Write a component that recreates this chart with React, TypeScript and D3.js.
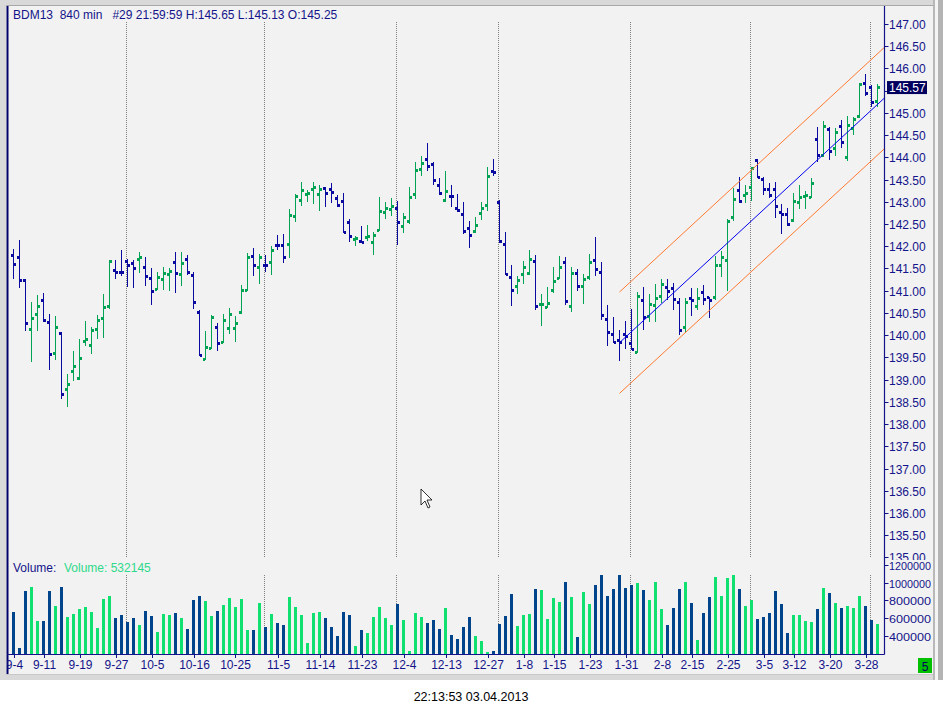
import { useRef, useEffect } from "react";
import * as d3 from "d3";

const width = 943;
const height = 715;

// OHLC bars, one per session, Sep 4 2012 .. Apr 2 2013
const opens = [
  141.80, 141.75, 141.24, 140.13, 140.47, 140.77, 140.29, 139.59, 140.04, 138.78,
  139.19, 139.03, 139.86, 139.77, 140.13, 140.38, 140.65, 141.46, 141.41, 141.66,
  141.62, 141.71, 141.53, 141.28, 141.03, 141.26, 141.37, 141.64, 141.37, 141.71,
  141.35, 140.51, 139.46, 139.70, 140.18, 139.84, 140.15, 140.15, 140.51, 141.01,
  141.77, 141.53, 141.57, 141.64, 142.02, 142.02, 142.04, 142.67, 143.02, 143.17,
  143.28, 143.17, 143.30, 143.28, 143.08, 143.01, 142.54, 142.16, 142.11, 142.20,
  142.09, 142.36, 142.76, 142.83, 142.85, 142.45, 142.56, 143.17, 143.73, 143.96,
  143.84, 143.37, 143.03, 143.13, 142.85, 142.72, 142.40, 142.34, 142.74, 142.92,
  143.69, 142.99, 142.04, 141.30, 141.10, 141.37, 141.39, 141.66, 140.69, 140.63,
  141.01, 141.28, 141.64, 140.65, 141.39, 141.10, 141.30, 141.68, 141.41, 140.36,
  140.02, 139.88, 140.02, 139.82, 139.61, 140.78, 140.42, 140.67, 140.87, 141.08,
  141.05, 140.74, 140.18, 140.83, 140.65, 140.96, 140.85, 140.85, 141.56, 141.67,
  142.65, 143.26, 143.15, 143.33, 143.92, 143.51, 143.28, 143.28, 142.76, 142.72,
  142.58, 142.99, 143.12, 143.10, 144.41, 144.05, 144.63, 144.20, 144.70, 144.00,
  144.65, 144.92, 145.67, 145.58, 145.25,
];
const highs = [
  141.94, 142.14, 141.26, 140.75, 140.90, 140.95, 140.48, 140.43, 140.07, 139.13,
  139.64, 139.91, 140.32, 140.18, 140.45, 140.93, 141.69, 141.69, 141.92, 141.71,
  141.69, 141.87, 141.76, 141.50, 141.42, 141.53, 141.51, 141.87, 141.87, 141.80,
  141.42, 140.57, 140.09, 140.45, 140.27, 140.48, 140.61, 140.43, 141.13, 141.85,
  141.96, 141.82, 141.80, 142.01, 142.25, 142.28, 142.84, 143.18, 143.45, 143.27,
  143.45, 143.38, 143.34, 143.43, 143.15, 143.20, 142.61, 142.23, 142.45, 142.48,
  142.33, 143.11, 142.99, 143.08, 143.02, 142.74, 143.33, 143.90, 144.03, 144.32,
  143.90, 143.53, 143.69, 143.38, 143.18, 142.99, 142.57, 142.65, 142.99, 143.78,
  143.96, 143.03, 142.32, 141.57, 141.33, 141.66, 141.92, 141.80, 140.93, 141.09,
  141.54, 141.78, 141.76, 141.54, 141.48, 141.38, 141.82, 142.21, 141.65, 140.68,
  140.41, 140.12, 140.32, 140.59, 140.97, 141.09, 140.93, 141.15, 141.26, 141.26,
  141.17, 140.83, 140.83, 141.06, 141.06, 141.13, 140.86, 141.78, 141.89, 142.61,
  143.30, 143.56, 143.38, 143.78, 143.96, 143.56, 143.42, 143.44, 142.94, 142.85,
  143.19, 143.38, 143.24, 143.54, 144.68, 144.82, 144.69, 144.65, 144.84, 144.93,
  144.90, 145.67, 145.87, 145.63, 145.65,
];
const lows = [
  141.26, 141.07, 140.10, 139.40, 140.10, 140.30, 139.22, 139.44, 138.56, 138.39,
  138.97, 138.99, 139.76, 139.58, 139.91, 139.94, 140.59, 141.26, 141.33, 141.08,
  141.06, 141.40, 141.11, 140.68, 141.02, 141.02, 140.99, 140.95, 141.11, 141.35,
  140.59, 139.53, 139.44, 139.69, 139.64, 139.82, 140.03, 139.85, 140.48, 140.99,
  141.33, 141.15, 141.42, 141.35, 141.92, 141.63, 141.74, 142.55, 142.91, 143.00,
  142.95, 142.80, 142.89, 142.98, 142.88, 142.29, 142.10, 142.01, 142.07, 142.12,
  141.81, 142.35, 142.61, 142.68, 142.03, 142.30, 142.51, 143.06, 143.59, 143.70,
  143.38, 143.16, 142.99, 142.89, 142.77, 142.27, 141.95, 142.29, 142.59, 142.79,
  143.59, 142.07, 141.35, 140.66, 140.93, 141.16, 141.35, 140.57, 140.21, 140.60,
  140.94, 141.27, 140.67, 140.53, 140.99, 140.69, 141.23, 141.34, 140.34, 139.76,
  139.82, 139.42, 139.69, 139.67, 139.59, 140.12, 140.30, 140.30, 140.72, 140.79,
  140.57, 140.00, 140.04, 140.43, 140.57, 140.68, 140.39, 140.80, 141.31, 141.00,
  142.57, 142.97, 142.97, 143.02, 143.53, 143.15, 143.08, 142.64, 142.28, 142.46,
  142.54, 142.83, 142.83, 143.09, 143.90, 144.01, 143.95, 144.04, 144.22, 143.92,
  144.50, 144.88, 145.38, 145.13, 145.13,
];
const closes = [
  141.59, 141.22, 140.27, 140.38, 140.64, 140.33, 139.57, 140.18, 138.67, 138.89,
  139.30, 139.48, 139.91, 140.11, 140.33, 140.63, 141.66, 141.41, 141.40, 141.57,
  141.50, 141.75, 141.32, 140.99, 141.30, 141.39, 141.44, 141.39, 141.62, 141.41,
  140.74, 139.55, 139.73, 140.40, 139.82, 140.33, 140.47, 140.27, 141.01, 141.75,
  141.57, 141.75, 141.56, 141.91, 142.01, 141.75, 142.70, 143.11, 143.26, 143.18,
  143.33, 143.28, 143.19, 143.21, 142.92, 142.31, 142.22, 142.18, 142.09, 142.22,
  142.25, 142.79, 142.85, 142.90, 142.54, 142.65, 143.10, 143.71, 143.87, 143.80,
  143.48, 143.19, 143.24, 143.12, 142.81, 142.34, 142.25, 142.47, 142.85, 143.57,
  143.66, 142.11, 141.37, 141.01, 141.23, 141.53, 141.71, 140.65, 140.70, 140.72,
  141.21, 141.53, 140.76, 141.39, 141.10, 141.26, 141.64, 141.48, 140.45, 140.06,
  139.84, 139.84, 139.97, 139.68, 140.87, 140.40, 140.70, 140.83, 141.14, 140.99,
  140.81, 140.11, 140.74, 140.78, 140.83, 140.81, 140.78, 141.56, 141.74, 142.56,
  143.06, 143.01, 143.19, 143.75, 143.55, 143.28, 143.15, 142.90, 142.72, 142.49,
  143.01, 143.10, 143.15, 143.42, 144.05, 144.70, 144.14, 144.56, 144.34, 144.72,
  144.86, 145.64, 145.43, 145.24, 145.57,
];
const volumes = [
  672000, 264000, 909000, 954000, 570000, 570000, 909000, 739000, 954000, 615000,
  649000, 706000, 728000, 672000, 491000, 819000, 853000, 604000, 638000, 558000,
  604000, 524000, 683000, 626000, 445000, 649000, 638000, 660000, 604000, 479000,
  807000, 853000, 796000, 626000, 683000, 751000, 830000, 728000, 819000, 468000,
  468000, 773000, 502000, 649000, 547000, 524000, 841000, 728000, 638000, 321000,
  660000, 672000, 604000, 502000, 400000, 672000, 638000, 287000, 468000, 434000,
  615000, 728000, 604000, 524000, 762000, 581000, 230000, 660000, 615000, 547000,
  581000, 479000, 717000, 411000, 366000, 502000, 615000, 400000, 343000, 219000,
  230000, 536000, 626000, 875000, 513000, 638000, 649000, 932000, 920000, 592000,
  830000, 785000, 1011000, 841000, 389000, 898000, 762000, 977000, 1090000, 853000,
  932000, 1090000, 943000, 977000, 1000000, 920000, 807000, 1011000, 706000, 524000,
  717000, 932000, 1011000, 773000, 355000, 660000, 841000, 1068000, 853000, 1056000,
  1090000, 932000, 739000, 807000, 592000, 615000, 660000, 909000, 762000, 434000,
  638000, 638000, 570000, 558000, 706000, 943000, 886000, 773000, 717000, 739000,
  717000, 853000, 739000, 581000, 532145,
];

// x-axis date labels and the bar they sit under
const dateLabels = [
  "9-4", "9-11", "9-19", "9-27", "10-5", "10-16", "10-25", "11-5", "11-14", "11-23",
  "12-4", "12-13", "12-27", "1-8", "1-15", "1-23", "1-31", "2-8", "2-15", "2-25",
  "3-5", "3-12", "3-20", "3-28",
];
const dateIdx = [0, 5, 11, 17, 23, 30, 37, 44, 51, 58, 65, 72, 79, 85, 90, 96, 102, 108, 113, 119, 125, 130, 136, 142];
// first bar of each month (dotted separators)
const monthStartIdx = [19, 42, 64, 81, 103, 123, 143];

const priceTicks = d3.range(135, 147.001, 0.5);
const volumeTicks = [1200000, 1000000, 800000, 600000, 400000];

// regression channel
const channelIdx = [101, 145.2];
const channelMid = [139.83, 145.34];
const channelHalf = 1.14;

const lastPrice = 145.57;

const NAVY = "#14148a";
const UP = "#00a254";
const DOWN = "#0a0aa0";
const VOL_UP = "#10e070";
const VOL_DOWN = "#00448c";
const FONT = "'Liberation Sans', Arial, sans-serif";

export default function App() {
  const ref = useRef<SVGSVGElement | null>(null);

  useEffect(() => {
    const svg = d3
      .select(ref.current)
      .attr("width", width)
      .attr("height", height)
      .attr("viewBox", `0 0 ${width} ${height}`)
      .style("font-family", FONT);

    svg.selectAll("*").remove();

    const x = d3.scaleLinear().domain([0, 144]).range([13.5, 877.5]);
    const y = d3.scaleLinear().domain([135, 147]).range([557.4, 24]);
    const yv = d3.scaleLinear().domain([400000, 1200000]).range([635.7, 565]);
    const base = 654;
    const axisX = 884.5;

    const defs = svg.append("defs");
    defs.append("clipPath").attr("id", "plot").append("rect").attr("x", 7).attr("y", 6).attr("width", axisX - 7).attr("height", 648);
    defs.append("clipPath").attr("id", "paxis").append("rect").attr("x", axisX).attr("y", 6).attr("width", 933 - axisX).attr("height", 554);
    defs.append("clipPath").attr("id", "vaxis").append("rect").attr("x", axisX).attr("y", 560).attr("width", 931 - axisX).attr("height", 100);
    defs.append("clipPath").attr("id", "xaxis").append("rect").attr("x", 7).attr("y", 654).attr("width", axisX - 7).attr("height", 22);

    // window frame
    svg.append("rect").attr("width", width).attr("height", 680).attr("fill", "#d9d9d9");
    svg.append("rect").attr("x", 6).attr("y", 6).attr("width", 927).attr("height", 668).attr("fill", "#f2f2f2");
    svg.append("line").attr("x1", 7.5).attr("x2", 7.5).attr("y1", 6).attr("y2", 674).attr("stroke", "#00006a").attr("stroke-width", 2);
    svg.append("line").attr("x1", 6).attr("x2", 933).attr("y1", 5.5).attr("y2", 5.5).attr("stroke", "#a8a8a8");
    svg.append("line").attr("x1", 6).attr("x2", 933).attr("y1", 674.5).attr("y2", 674.5).attr("stroke", "#c8c8c8");
    svg.append("rect").attr("x", 933).attr("y", 0).attr("width", 2).attr("height", 680).attr("fill", "#b8b8b8");
    svg.append("rect").attr("x", 935).attr("y", 0).attr("width", 3).attr("height", 680).attr("fill", "#f4f4f4");
    svg.append("rect").attr("x", 938).attr("y", 0).attr("width", 5).attr("height", 680).attr("fill", "#b4b4b4");

    const plot = svg.append("g").attr("clip-path", "url(#plot)").attr("shape-rendering", "crispEdges");

    // month separators
    monthStartIdx.forEach((i) => {
      const gx = Math.round(x(i) - 2) + 0.5;
      [[22, 558], [575, base]].forEach(([a, b]) => {
        plot.append("line").attr("x1", gx).attr("x2", gx).attr("y1", a).attr("y2", b)
          .attr("stroke", "#808080").attr("stroke-dasharray", "1,1");
      });
    });

    // channel
    const ch = d3.line<number>().x((d) => x(d)).y((d, k) => y(channelMid[k]));
    const chOff = (off: number) =>
      d3.line<number>().x((d) => x(d)).y((d, k) => y(channelMid[k] + off))(channelIdx);
    const chg = svg.append("g").attr("clip-path", "url(#plot)");
    chg.append("path").attr("d", chOff(channelHalf)).attr("stroke", "#ff7a30").attr("fill", "none").attr("stroke-width", 1);
    chg.append("path").attr("d", chOff(-channelHalf)).attr("stroke", "#ff7a30").attr("fill", "none").attr("stroke-width", 1);
    chg.append("path").attr("d", ch(channelIdx)).attr("stroke", "#0000ee").attr("fill", "none").attr("stroke-width", 1);

    // OHLC bars
    opens.forEach((o, i) => {
      const c = closes[i];
      const col = c >= o ? UP : DOWN;
      const cx = x(i);
      const g = plot.append("g").attr("fill", col);
      g.append("rect").attr("x", cx - 0.5).attr("y", y(highs[i])).attr("width", 1).attr("height", Math.max(1, y(lows[i]) - y(highs[i])));
      g.append("rect").attr("x", cx - 2.5).attr("y", y(o) - 1.5).attr("width", 2).attr("height", 3);
      g.append("rect").attr("x", cx + 0.5).attr("y", y(c) - 1.5).attr("width", 2).attr("height", 3);
    });

    // volume bars
    plot.selectAll("rect.vol")
      .data(volumes)
      .join("rect")
      .attr("class", "vol")
      .attr("x", (d, i) => x(i) - 1.5)
      .attr("width", 3)
      .attr("y", (d) => yv(d))
      .attr("height", (d) => base - yv(d))
      .attr("fill", (d, i) => (closes[i] >= opens[i] ? VOL_UP : VOL_DOWN));

    // axes
    svg.append("line").attr("x1", axisX).attr("x2", axisX).attr("y1", 6).attr("y2", base + 0.5).attr("stroke", NAVY).attr("stroke-width", 1.2);
    svg.append("line").attr("x1", 7).attr("x2", axisX).attr("y1", base + 0.5).attr("y2", base + 0.5).attr("stroke", NAVY).attr("stroke-width", 1.2);

    const ly = y(lastPrice);
    const pa = svg.append("g").attr("clip-path", "url(#paxis)");
    priceTicks.forEach((p) => {
      const ty = Math.round(y(p)) + 0.5;
      pa.append("line").attr("x1", axisX).attr("x2", axisX + 4).attr("y1", ty).attr("y2", ty).attr("stroke", NAVY);
      // the label under the last-price box is hidden
      if (Math.abs(ty - ly) < 10) return;
      pa.append("text").attr("x", 889).attr("y", ty + 4.5).attr("font-size", 12).attr("fill", NAVY).text(p.toFixed(2));
    });

    const va = svg.append("g").attr("clip-path", "url(#vaxis)");
    volumeTicks.forEach((v) => {
      const ty = Math.round(yv(v)) + 0.5;
      va.append("line").attr("x1", axisX).attr("x2", axisX + 4).attr("y1", ty).attr("y2", ty).attr("stroke", NAVY);
      va.append("text").attr("x", 889).attr("y", ty + 4.5).attr("font-size", 11.5).attr("fill", NAVY)
        .attr("textLength", 42).attr("lengthAdjust", "spacingAndGlyphs").text(String(v));
    });

    const xa = svg.append("g").attr("clip-path", "url(#xaxis)");
    dateIdx.forEach((i, k) => {
      const tx = Math.round(x(i)) + 0.5;
      xa.append("line").attr("x1", tx).attr("x2", tx).attr("y1", base).attr("y2", base + 4).attr("stroke", NAVY);
      xa.append("text").attr("x", tx).attr("y", 669).attr("text-anchor", "middle").attr("font-size", 12).attr("fill", NAVY).text(dateLabels[k]);
    });

    // last price marker
    svg.append("rect").attr("x", 887).attr("y", ly - 6.5).attr("width", 40).attr("height", 13).attr("fill", "#00005e");
    svg.append("text").attr("x", 889).attr("y", ly + 4.5).attr("font-size", 12).attr("fill", "#ffffff").text(lastPrice.toFixed(2));

    // header texts
    svg.append("text").attr("x", 13).attr("y", 19).attr("font-size", 12).attr("fill", NAVY)
      .attr("xml:space", "preserve")
      .text(`BDM13  840 min   #29 21:59:59 H:${highs[144].toFixed(2)} L:${lows[144].toFixed(2)} O:${opens[144].toFixed(2)}`);
    svg.append("text").attr("x", 13).attr("y", 572).attr("font-size", 12).attr("fill", NAVY).text("Volume:");
    svg.append("text").attr("x", 64).attr("y", 572).attr("font-size", 12).attr("fill", "#2fd98a").text(`Volume: ${volumes[144]}`);

    // bar-count badge
    svg.append("rect").attr("x", 918).attr("y", 658).attr("width", 14).attr("height", 15).attr("fill", "#00c000");
    svg.append("text").attr("x", 925).attr("y", 671).attr("text-anchor", "middle").attr("font-size", 12).attr("fill", "#00005e").text("5");

    // mouse pointer
    svg.append("path")
      .attr("d", "M421,489 L421,505 L425,501 L428,508 L430,507 L427,500 L432,500 Z")
      .attr("fill", "#ffffff").attr("stroke", "#000000").attr("stroke-width", 0.8);

    // status time
    svg.append("text").attr("x", 471).attr("y", 701).attr("text-anchor", "middle").attr("font-size", 12.5).attr("fill", "#000000")
      .text("22:13:53 03.04.2013");
  }, []);

  return <svg ref={ref} style={{ position: "absolute", left: 0, top: 0, background: "#ffffff" }} />;
}
